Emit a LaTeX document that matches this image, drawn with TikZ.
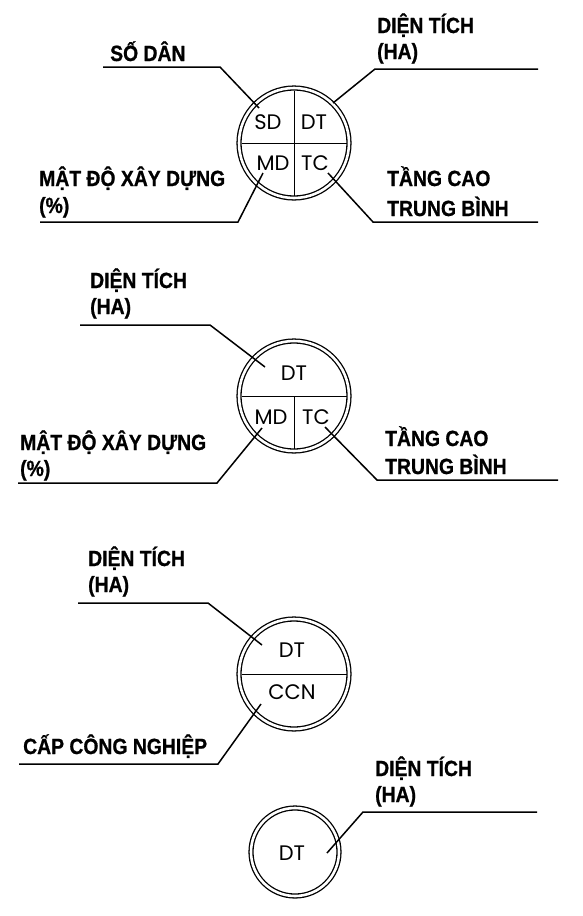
\documentclass[tikz,border=0pt]{standalone}
\usepackage{fontspec}
\newfontfamily\labfont{Liberation Sans}[FakeStretch=0.88, FakeBold=0.8]
\newfontfamily\innerfont{Poppins}
\begin{document}
\begin{tikzpicture}[x=1pt,y=-1pt,
  lab/.style={font=\labfont\bfseries\fontsize{22}{24}\selectfont, anchor=base west, inner sep=0pt},
  inl/.style={font=\innerfont\fontsize{21}{22}\selectfont, inner sep=0pt},
  lead/.style={line width=1.5pt, line join=miter},
  ring/.style={circle, draw, line width=1.3pt, double, double distance=2.6pt, inner sep=0pt, outer sep=0pt, minimum size=#1},
  divide/.style={line width=0.9pt}]
\useasboundingbox (0,0) rectangle (583,916);

% ---------- diagram 1 ----------
\node (c1) [ring=110pt] at (294,143) {};
\draw[divide] ([yshift=-2.5pt]c1.north) -- ([yshift=2.5pt]c1.south);
\draw[divide] ([xshift=2.5pt]c1.west) -- ([xshift=-2.5pt]c1.east);
\node (sd1) [inl] at (268,122) {SD};
\node (dt1) [inl] at (314,122) {DT};
\node (md1) [inl] at (273,163) {MD};
\node (tc1) [inl] at (315,163) {TC};

\node (lsd) [lab] at (110,61) {SỐ DÂN};
\coordinate (sdA) at (103,67); \coordinate (sdB) at (220,67); \coordinate (sdE) at (259,108);
\draw[lead] (sdA) -- (sdB) -- (sdE);

\node (ldt1a) [lab] at (377,33) {DIỆN TÍCH};
\node (ldt1b) [lab] at (377,59) {(HA)};
\coordinate (dt1A) at (538,69); \coordinate (dt1B) at (375,69); \coordinate (dt1E) at (333,103);
\draw[lead] (dt1A) -- (dt1B) -- (dt1E);

\node (lmd1a) [lab] at (39,186) {MẬT ĐỘ XÂY DỰNG};
\node (lmd1b) [lab] at (39,213) {(\%)};
\coordinate (md1A) at (40,222); \coordinate (md1B) at (238,222); \coordinate (md1E) at (263,173);
\draw[lead] (md1A) -- (md1B) -- (md1E);

\node (ltc1a) [lab] at (387,186) {TẦNG CAO};
\node (ltc1b) [lab] at (387,216) {TRUNG BÌNH};
\coordinate (tc1A) at (538,222); \coordinate (tc1B) at (373,222); \coordinate (tc1E) at (328,173);
\draw[lead] (tc1A) -- (tc1B) -- (tc1E);

% ---------- diagram 2 ----------
\node (c2) [ring=110pt] at (294,396) {};
\draw[divide] ([xshift=2.5pt]c2.west) -- ([xshift=-2.5pt]c2.east);
\draw[divide] (c2.center) -- ([yshift=2.5pt]c2.south);
\node (dt2) [inl] at (294,373) {DT};
\node (md2) [inl] at (271,417) {MD};
\node (tc2) [inl] at (316,417) {TC};

\node (ldt2a) [lab] at (90,288) {DIỆN TÍCH};
\node (ldt2b) [lab] at (90,314) {(HA)};
\coordinate (dt2A) at (80,325); \coordinate (dt2B) at (210,325); \coordinate (dt2E) at (265,367);
\draw[lead] (dt2A) -- (dt2B) -- (dt2E);

\node (lmd2a) [lab] at (20,450) {MẬT ĐỘ XÂY DỰNG};
\node (lmd2b) [lab] at (20,476) {(\%)};
\coordinate (md2A) at (18,483); \coordinate (md2B) at (217,483); \coordinate (md2E) at (262,428);
\draw[lead] (md2A) -- (md2B) -- (md2E);

\node (ltc2a) [lab] at (385,446) {TẦNG CAO};
\node (ltc2b) [lab] at (385,474) {TRUNG BÌNH};
\coordinate (tc2A) at (558,480); \coordinate (tc2B) at (377,480); \coordinate (tc2E) at (325,427);
\draw[lead] (tc2A) -- (tc2B) -- (tc2E);

% ---------- diagram 3 ----------
\node (c3) [ring=110pt] at (294,674) {};
\draw[divide] ([xshift=2.5pt]c3.west) -- ([xshift=-2.5pt]c3.east);
\node (dt3) [inl] at (292,650) {DT};
\node (ccn3) [inl] at (292,692) {CCN};

\node (ldt3a) [lab] at (88,566) {DIỆN TÍCH};
\node (ldt3b) [lab] at (88,592) {(HA)};
\coordinate (dt3A) at (78,603); \coordinate (dt3B) at (208,603); \coordinate (dt3E) at (262,645);
\draw[lead] (dt3A) -- (dt3B) -- (dt3E);

\node (lccn) [lab] at (23,754) {CẤP CÔNG NGHIỆP};
\coordinate (cc3A) at (19,764); \coordinate (cc3B) at (218,764); \coordinate (cc3E) at (261,704);
\draw[lead] (cc3A) -- (cc3B) -- (cc3E);

% ---------- diagram 4 ----------
\node (c4) [ring=88pt] at (295,852) {};
\node (dt4) [inl] at (292,853) {DT};

\node (ldt4a) [lab] at (375,776) {DIỆN TÍCH};
\node (ldt4b) [lab] at (375,802) {(HA)};
\coordinate (dt4A) at (537,812); \coordinate (dt4B) at (363,812); \coordinate (dt4E) at (327,853);
\draw[lead] (dt4A) -- (dt4B) -- (dt4E);
\end{tikzpicture}
\end{document}
